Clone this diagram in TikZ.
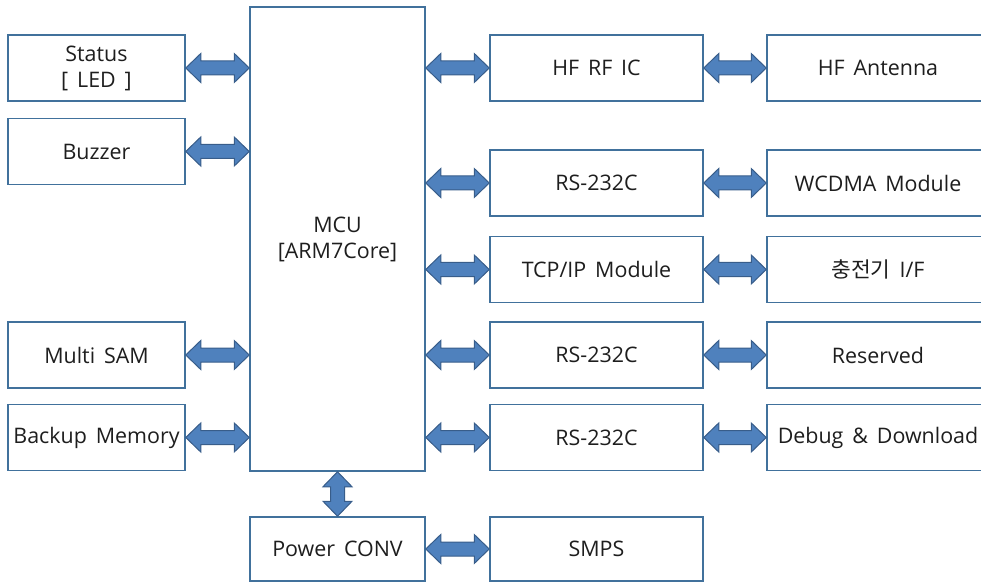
\documentclass[tikz,border=0pt]{standalone}
\usepackage{fontspec}
\setmainfont{Open Sans}[WordSpace=1.6]
\newfontfamily\krfont{Noto Sans CJK KR}
\usetikzlibrary{calc,positioning}
\definecolor{boxline}{HTML}{41719C}
\definecolor{arrfill}{HTML}{4F81BD}
\definecolor{arrline}{HTML}{385D8A}
\definecolor{ink}{HTML}{1E1E1E}
\tikzset{
  box/.style={draw=boxline, line width=1.5bp, fill=white, align=center,
              font=\fontsize{21.5}{26}\selectfont, text=ink, inner sep=0pt,
              minimum height=66bp},
  leftbox/.style={box, minimum width=177bp},
  midbox/.style={box, minimum width=213bp},
  farbox/.style={box, minimum width=222bp},
  dblarr/.style={draw=arrline, fill=arrfill, line width=1bp, line join=miter}
}
% block arrow with a head at both ends, left to right
\newcommand\harrow[2]{%
  \path let \p1=#1, \p2=#2 in [dblarr]
    (\p1) -- ($(\p1)+(15bp,14.5bp)$) -- ($(\p1)+(15bp,7bp)$)
    -- ($(\p2)+(-15bp,7bp)$) -- ($(\p2)+(-15bp,14.5bp)$) -- (\p2)
    -- ($(\p2)+(-15bp,-14.5bp)$) -- ($(\p2)+(-15bp,-7bp)$)
    -- ($(\p1)+(15bp,-7bp)$) -- ($(\p1)+(15bp,-14.5bp)$) -- cycle;}
% same, top to bottom
\newcommand\varrow[2]{%
  \path let \p1=#1, \p2=#2 in [dblarr]
    (\p1) -- ($(\p1)+(14.5bp,-15bp)$) -- ($(\p1)+(7bp,-15bp)$)
    -- ($(\p2)+(7bp,15bp)$) -- ($(\p2)+(14.5bp,15bp)$) -- (\p2)
    -- ($(\p2)+(-14.5bp,15bp)$) -- ($(\p2)+(-7bp,15bp)$)
    -- ($(\p1)+(-7bp,-15bp)$) -- ($(\p1)+(-14.5bp,-15bp)$) -- cycle;}

\begin{document}
\begin{tikzpicture}[x=1bp,y=-1bp]
  \useasboundingbox (0,0) rectangle (981,583);
  % core
  \node[box, minimum width=175bp, minimum height=464bp] (mcu) at (337.5,239) {MCU\\{[}ARM7Core]};
  \node[box, minimum width=175bp, minimum height=64bp] (power) at (337.5,549) {Power CONV};
  % left column
  \foreach \n/\y/\t in {status/68/{Status\\{[} LED ]}, buzzer/151.5/Buzzer,
                        sam/355/Multi SAM, backup/437.5/Backup Memory} {
    \node[leftbox] (\n) at (96.5,\y) {\t};
  }
  % middle column
  \foreach \n/\y/\t in {rfic/68/HF RF IC, rsa/183/RS-232C, tcp/269.5/{TCP/IP Module},
                        rsb/355/RS-232C, rsc/437.5/RS-232C} {
    \node[midbox] (\n) at (596.5,\y) {\t};
  }
  \node[midbox, minimum height=64bp] (smps) at (596.5,549) {SMPS};
  % right column
  \foreach \n/\y/\t in {ant/68/HF Antenna, wcdma/183/WCDMA Module,
                        chg/269.5/{{\krfont 충전기} I/F}, rsv/355/Reserved,
                        dbg/437.5/Debug \& Download} {
    \node[farbox] (\n) at (878,\y) {\t};
  }
  % links
  \foreach \a in {status, buzzer, sam, backup} {
    \harrow{(\a.east)}{(mcu.west |- \a.east)}
  }
  \foreach \b in {rfic, rsa, tcp, rsb, rsc} {
    \harrow{(mcu.east |- \b.west)}{(\b.west)}
  }
  \foreach \a/\b in {rfic/ant, rsa/wcdma, tcp/chg, rsb/rsv, rsc/dbg, power/smps} {
    \harrow{(\a.east)}{(\b.west)}
  }
  \varrow{(mcu.south)}{(power.north)}
\end{tikzpicture}
\end{document}
